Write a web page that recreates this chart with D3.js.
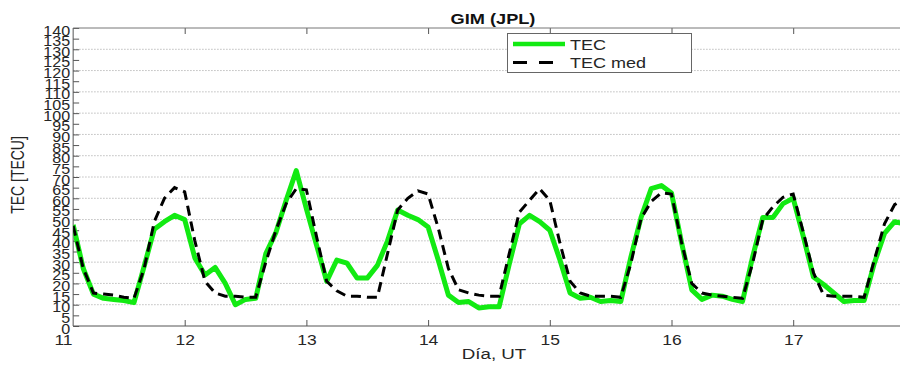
<!DOCTYPE html>
<html>
<head>
<meta charset="utf-8">
<script src="https://cdn.jsdelivr.net/npm/d3@7"></script>
<style>
    html, body { margin: 0; padding: 0; background: #fff; }
    svg { display: block; font-family: "Liberation Sans", Arial, sans-serif; }
    .axis text { fill: #262626; }
    .axis line { stroke: #555; }
</style>
</head>
<body>
<svg id="chart" width="900" height="365"></svg>
<script>
// values, one every 2 h starting at day 11 02 UT
const firstDay = 11 + 2 / 24
const stepDays = 2 / 24
const tec = [
    47.5, 27, 15, 13, 12.5, 12, 11, 28, 45.5, 49, 52, 50,
    32, 24, 27.5, 20, 10, 12.5, 13, 34, 44, 59, 73, 55,
    38, 21, 31, 29.5, 22.5, 22.5, 28.5, 40, 54.5, 52, 50, 46.5,
    31, 14.5, 11, 11.5, 8.5, 9, 9, 29, 48, 52, 49, 45,
    31, 15.5, 13, 13.5, 11.5, 12, 11.5, 32.5, 51, 64.5, 66, 62.5,
    39, 17, 12.5, 14.5, 14, 12.5, 11.5, 32.5, 51, 51, 57.5, 60,
    42, 23, 19.5, 15.5, 11.5, 12, 12, 29.5, 43.5, 49, 48
]
const tecMed = [
    47, 27, 15.5, 15, 14.5, 13.5, 13, 27, 49, 60, 65, 63,
    40, 21, 15.5, 14, 14, 13.5, 13.5, 30, 45, 57.5, 64.5, 64,
    42, 21, 16.5, 14, 14, 13.5, 13.5, 34, 54.5, 60, 63.5, 62,
    46, 27, 17, 15.5, 14.5, 14, 14, 34, 53.5, 59, 64.5, 59,
    39, 21, 15.5, 14, 14, 14, 13.5, 29.5, 50.5, 58.5, 62.5, 62,
    39, 20, 15.5, 14.5, 14, 13.5, 13, 29.5, 50, 56, 60.5, 62,
    44, 25, 14.5, 14, 14, 14, 13.5, 31, 48, 57, 60
]
const dayTicks = [11, 12, 13, 14, 15, 16, 17]
const tecTicks = d3.range(0, 141, 5)
const gridTicks = d3.range(10, 140, 10)
const seriesNames = ["TEC", "TEC med"]

const svg = d3.select("#chart")
const W = 900
const plot = { top: 28, bottom: 326, right: 900 }

// scales
const x = d3.scaleLinear().domain([11, 18]).range([63, 63 + 7 * 121.7])
const y = d3.scaleLinear().domain([0, 140]).range([plot.bottom, plot.top])
const left = x(firstDay)

const rows = tec.map((v, i) => ({ t: firstDay + i * stepDays, a: v, b: tecMed[i] }))

svg.append("defs").append("clipPath").attr("id", "clip")
    .append("rect")
    .attr("x", left).attr("y", plot.top - 5)
    .attr("width", W - left).attr("height", plot.bottom - plot.top + 5)

// grid
svg.append("g").attr("class", "grid")
    .selectAll("line").data(gridTicks).enter()
    .append("line")
    .attr("x1", left).attr("x2", W)
    .attr("y1", d => y(d)).attr("y2", d => y(d))
    .attr("stroke", "#bdbdbd")
    .attr("stroke-width", 1)
    .attr("stroke-dasharray", "1.5,1.5")

// y axis
const yAxis = svg.append("g").attr("class", "axis")
    .attr("transform", `translate(${left},0)`)
    .call(d3.axisLeft(y).tickValues(tecTicks).tickSizeInner(-6).tickSizeOuter(0).tickPadding(3))
yAxis.select(".domain").remove()
yAxis.selectAll("text")
    .attr("font-size", 14)
    .attr("font-family", "Liberation Sans, Arial, sans-serif")
    .attr("x", -3 / 1.15)
    .attr("dy", "0.5em")
    .attr("transform", "scale(1.15,1)")

// x axis (bottom)
const xAxis = svg.append("g").attr("class", "axis")
    .attr("transform", `translate(0,${plot.bottom})`)
    .call(d3.axisBottom(x).tickValues(dayTicks).tickFormat(d3.format("d"))
        .tickSizeInner(-6).tickSizeOuter(0).tickPadding(5))
xAxis.select(".domain").remove()
xAxis.selectAll(".tick").filter(d => d < firstDay).select("line").remove()
xAxis.selectAll("text")
    .attr("font-size", 14)
    .attr("font-family", "Liberation Sans, Arial, sans-serif")
    .attr("dy", "1em")
    .attr("x", 0)
    .attr("transform", "scale(1.25,1)")

// top ticks
const topAxis = svg.append("g").attr("class", "axis")
    .attr("transform", `translate(0,${plot.top})`)
    .call(d3.axisTop(x).tickValues(dayTicks.filter(d => d > firstDay)).tickFormat("")
        .tickSizeInner(-6).tickSizeOuter(0))
topAxis.select(".domain").remove()

// box lines
svg.append("line").attr("x1", left).attr("x2", left).attr("y1", plot.top).attr("y2", plot.bottom)
    .attr("stroke", "#555")
svg.append("line").attr("x1", left).attr("x2", W).attr("y1", plot.bottom).attr("y2", plot.bottom)
    .attr("stroke", "#555")
svg.append("line").attr("x1", left).attr("x2", W).attr("y1", plot.top).attr("y2", plot.top)
    .attr("stroke", "#777")

// lines
const lineA = d3.line().x(d => x(d.t)).y(d => y(d.a))
const lineB = d3.line().x(d => x(d.t)).y(d => y(d.b))
const g = svg.append("g").attr("clip-path", "url(#clip)")
g.append("path").datum(rows)
    .attr("d", lineA)
    .attr("fill", "none")
    .attr("stroke", "#12ea12")
    .attr("stroke-width", 5)
    .attr("stroke-linejoin", "round")
g.append("path").datum(rows)
    .attr("d", lineB)
    .attr("fill", "none")
    .attr("stroke", "#000")
    .attr("stroke-width", 3)
    .attr("stroke-dasharray", "10,6")

// title
svg.append("text")
    .attr("transform", "translate(493,24) scale(1.3,1)")
    .attr("text-anchor", "middle")
    .attr("font-size", 14)
    .attr("font-weight", "bold")
    .attr("fill", "#111")
    .text("GIM (JPL)")

// axis titles
svg.append("text")
    .attr("transform", "translate(24,175) scale(1.25,1) rotate(-90)")
    .attr("text-anchor", "middle")
    .attr("font-size", 14)
    .attr("fill", "#262626")
    .text("TEC [TECU]")
svg.append("text")
    .attr("transform", "translate(494,359) scale(1.25,1)")
    .attr("text-anchor", "middle")
    .attr("font-size", 15)
    .attr("fill", "#262626")
    .text("Día, UT")

// legend
const leg = svg.append("g")
leg.append("rect")
    .attr("x", 507.5).attr("y", 33.5).attr("width", 184).attr("height", 39)
    .attr("fill", "#fff").attr("stroke", "#666")
const legStyles = [
    { color: "#12ea12", width: 4.5, dash: null },
    { color: "#000", width: 3, dash: "14,12" }
]
seriesNames.forEach((name, i) => {
    const ly = 44 + i * 18.5
    leg.append("line")
        .attr("x1", 513).attr("x2", 565).attr("y1", ly).attr("y2", ly)
        .attr("stroke", legStyles[i].color)
        .attr("stroke-width", legStyles[i].width)
        .attr("stroke-dasharray", legStyles[i].dash)
    leg.append("text")
        .attr("transform", `translate(570,${ly + 5.5}) scale(1.2,1)`)
        .attr("font-size", 15)
        .attr("fill", "#262626")
        .text(name)
})
</script>
</body>
</html>
